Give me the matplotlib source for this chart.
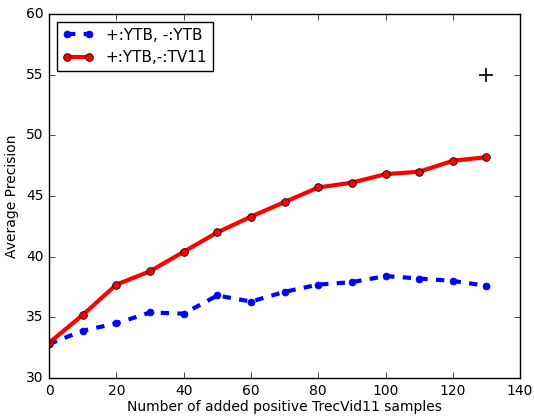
import matplotlib
matplotlib.use("Agg")
import matplotlib.pyplot as plt

plt.style.use('classic')

x = [0, 10, 20, 30, 40, 50, 60, 70, 80, 90, 100, 110, 120, 130]
ytb_ytb = [32.8, 33.9, 34.5, 35.4, 35.3, 36.8, 36.3, 37.1, 37.7, 37.9, 38.4, 38.2, 38.0, 37.6]
ytb_tv11 = [32.9, 35.2, 37.7, 38.8, 40.4, 42.0, 43.3, 44.5, 45.7, 46.1, 46.8, 47.0, 47.9, 48.2]
extra_x = [130]
extra_y = [55]

fig = plt.figure(figsize=(5.34, 4.17), dpi=100)
ax = fig.add_axes([0.092, 0.0935, 0.882, 0.873])
ax.plot(x, ytb_ytb, 'b--', marker='o', mfc='b', mec='b', lw=3, ms=5, label='+:YTB, -:YTB')
ax.plot(x, ytb_tv11, 'r-', marker='o', mfc='r', mec='k', mew=0.6, lw=3, ms=5.5, label='+:YTB,-:TV11')
ax.plot(extra_x, extra_y, 'k+', ms=10, mew=1.2)
ax.set_xlim(0, 140)
ax.set_ylim(30, 60)
ax.tick_params(labelsize=10)
ax.set_xlabel('Number of added positive TrecVid11 samples', fontsize=10, labelpad=2)
ax.set_ylabel('Average Precision', fontsize=10)
ax.legend(loc='upper left', fontsize=11, numpoints=2)
fig.savefig('out.png', dpi=100)
